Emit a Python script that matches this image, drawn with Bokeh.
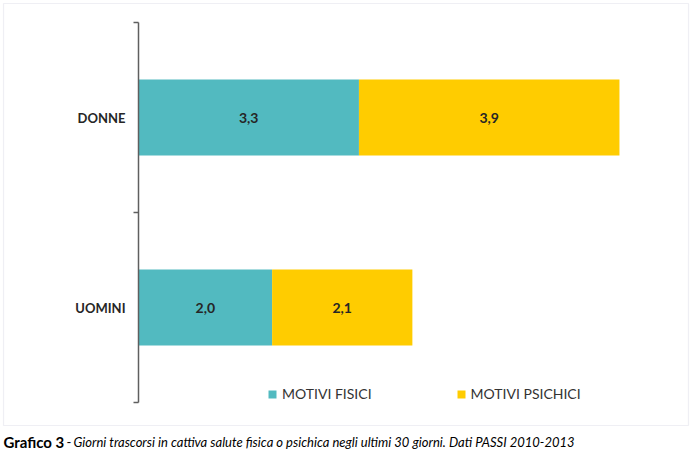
from bokeh.plotting import figure
from bokeh.models import ColumnDataSource, FixedTicker, LabelSet, Label, Range1d, BoxAnnotation
from bokeh.core.properties import value
from bokeh.embed import file_html
from bokeh.resources import INLINE

categories = ["UOMINI", "DONNE"]
motivi_fisici = [2.0, 3.3]
motivi_psichici = [2.1, 3.9]
series_names = ["MOTIVI FISICI", "MOTIVI PSICHICI"]
colors = ["#52BAC0", "#FFCC00"]
caption_bold = "Grafico 3"
caption_dash = "-"
caption_italic = "Giorni trascorsi in cattiva salute fisica o psichica negli ultimi 30 giorni. Dati PASSI 2010-2013"

FONT = "Lato"
W, H = 694, 455
X0_PX, X_SCALE = 138, 66.8      # pixel of value 0, pixels per unit
Y0_PX, Y_SCALE = 402, 190.0     # pixel of category boundary 0, pixels per category


def fmt(v):
    return f"{v:.1f}".replace(".", ",")


def dx(px):
    return (px - X0_PX) / X_SCALE


def dy(px):
    return (Y0_PX - px) / Y_SCALE


ypos = [i + 0.5 for i in range(len(categories))]
src = ColumnDataSource(dict(
    y=ypos,
    fisici=motivi_fisici,
    psichici=motivi_psichici,
    mid1=[a / 2 for a in motivi_fisici],
    mid2=[a + b / 2 for a, b in zip(motivi_fisici, motivi_psichici)],
    lab1=[fmt(a) for a in motivi_fisici],
    lab2=[fmt(b) for b in motivi_psichici],
))

p = figure(width=W, height=H, output_backend="svg", toolbar_location=None,
           x_range=Range1d(dx(0), dx(W)), y_range=Range1d(dy(H), dy(0)),
           min_border_left=0, min_border_right=0, min_border_top=0, min_border_bottom=0)

p.hbar_stack(["fisici", "psichici"], y="y", height=0.40, color=colors, source=src,
             legend_label=series_names, line_color=None)

p.xaxis.visible = False
p.grid.visible = False
p.outline_line_color = None

# chart border box
p.add_layout(BoxAnnotation(left=dx(3), right=dx(688), top=dy(3), bottom=dy(425),
                           fill_alpha=0, line_color="#C9C9DA", line_width=1.2))

ya = p.yaxis[0]
ya.fixed_location = 0
ya.ticker = FixedTicker(ticks=ypos, minor_ticks=list(range(len(categories) + 1)))
ya.major_label_overrides = {y: c for y, c in zip(ypos, categories)}
ya.bounds = (0, len(categories))
ya.major_tick_out = 0
ya.major_tick_in = 0
ya.minor_tick_out = 5
ya.minor_tick_in = 0
ya.minor_tick_line_color = "#5f5f5f"
ya.minor_tick_line_width = 1.5
ya.axis_line_color = "#5f5f5f"
ya.axis_line_width = 1.5
ya.major_label_standoff = 8
ya.major_label_text_font = FONT
ya.major_label_text_font_style = "bold"
ya.major_label_text_font_size = "13px"
ya.major_label_text_color = "#262626"

for col, lab in (("mid1", "lab1"), ("mid2", "lab2")):
    p.add_layout(LabelSet(x=col, y="y", text=lab, source=src, text_align="center",
                          text_baseline="middle", text_font=value(FONT),
                          text_font_style="bold", text_font_size="14px",
                          text_color="#262626"))

lg = p.legend[0]
lg.orientation = "horizontal"
lg.location = (267, 53)
lg.padding = 0
lg.margin = 0
lg.spacing = 84
lg.background_fill_alpha = 0
lg.border_line_color = None
lg.glyph_width = 10
lg.glyph_height = 10
lg.label_standoff = 5
lg.label_text_font = FONT
lg.label_text_font_size = "14px"
lg.label_text_color = "#333333"

p.add_layout(Label(x=3, y=14, x_units="screen", y_units="screen", text=caption_bold,
                   text_font=FONT, text_font_style="bold", text_font_size="15px",
                   text_baseline="middle", text_color="#000000"))
p.add_layout(Label(x=66, y=14, x_units="screen", y_units="screen", text=caption_dash,
                   text_font=FONT, text_font_size="13px",
                   text_baseline="middle", text_color="#000000"))
p.add_layout(Label(x=73, y=14, x_units="screen", y_units="screen", text=caption_italic,
                   text_font=FONT, text_font_style="italic", text_font_size="13px",
                   text_baseline="middle", text_color="#000000"))

open("out.html", "w").write(file_html(p, INLINE))
